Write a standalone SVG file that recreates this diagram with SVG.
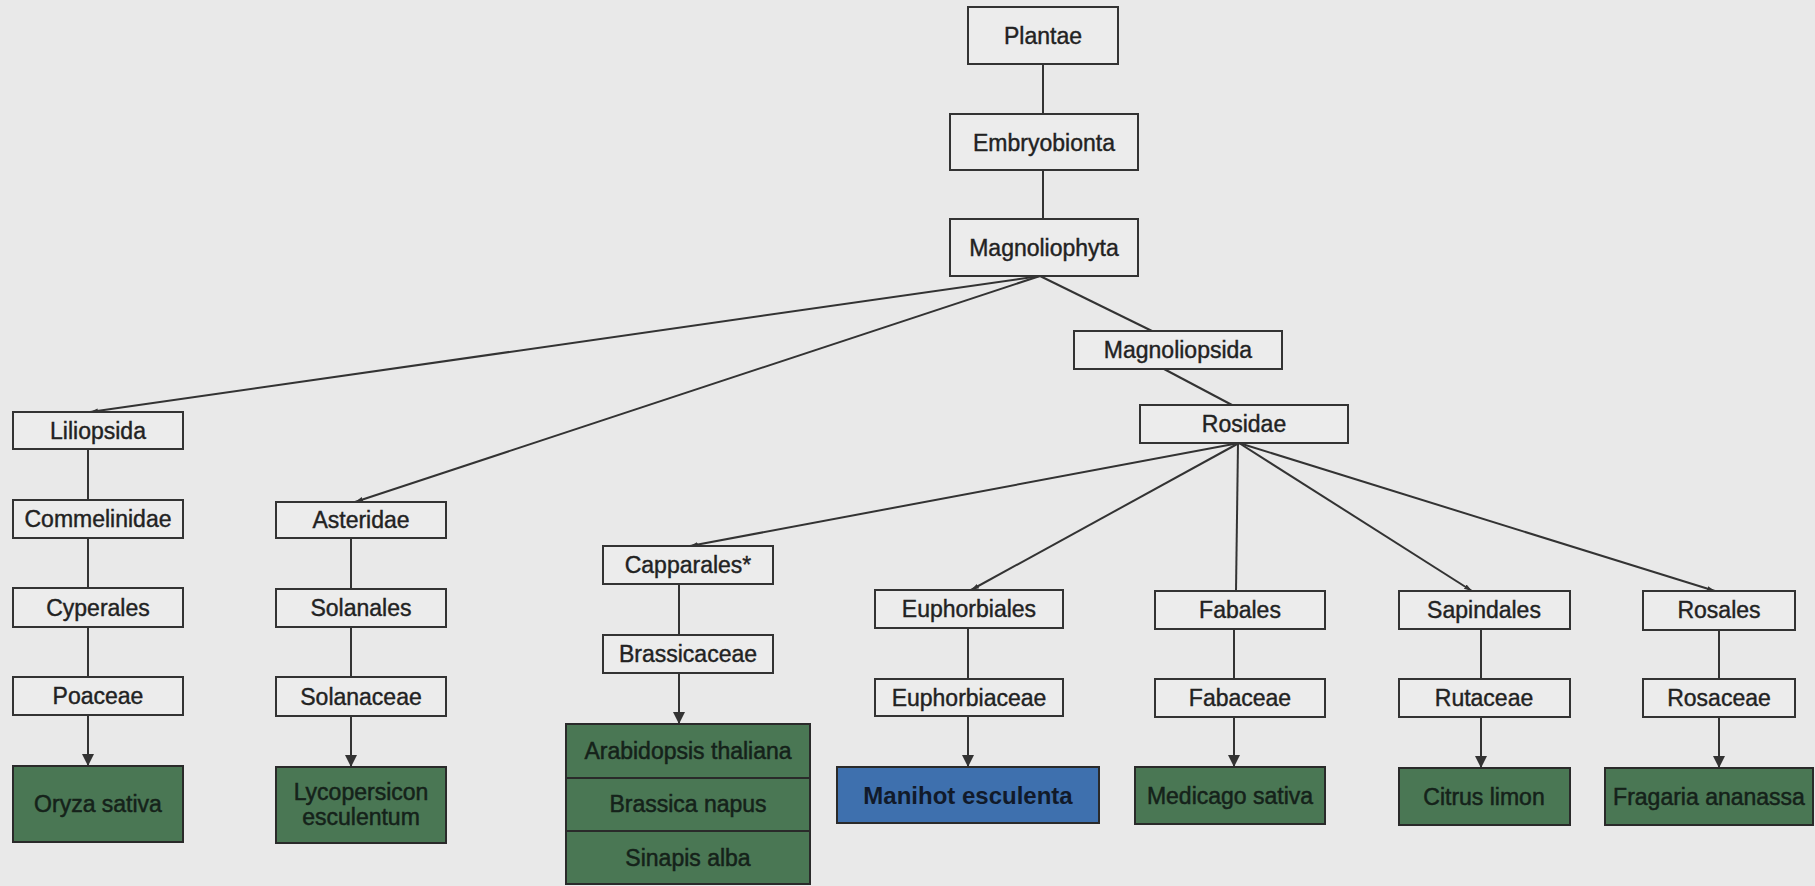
<svg xmlns="http://www.w3.org/2000/svg" width="1815" height="886" viewBox="0 0 1815 886">
<defs>
<style>
.b{fill:#ececec;stroke:#333;stroke-width:2}
.g{fill:#4a7754;stroke:#2a2a2a;stroke-width:2}
.bl{fill:#3e70ae;stroke:#2a2a2a;stroke-width:2}
.t{font-family:"Liberation Sans",Arial,sans-serif;font-size:23px;fill:#222;stroke:#222;stroke-width:0.4;text-anchor:middle}
.tg{font-family:"Liberation Sans",Arial,sans-serif;font-size:23px;fill:#15221a;stroke:#15221a;stroke-width:0.5;text-anchor:middle}
.tb{font-family:"Liberation Sans",Arial,sans-serif;font-size:24px;font-weight:bold;fill:#111a2a;text-anchor:middle}
.c line{stroke:#333;stroke-width:2;fill:none}
</style>
<marker id="a" markerUnits="userSpaceOnUse" markerWidth="12" markerHeight="12" viewBox="0 0 12 12" refX="12" refY="6" orient="auto">
<path d="M0,0 L12,6 L0,12 Z" fill="#333"/>
</marker>
<marker id="s" markerUnits="userSpaceOnUse" markerWidth="8" markerHeight="8" viewBox="0 0 8 8" refX="8" refY="4" orient="auto">
<path d="M0,1.5 L8,4 L0,6.5 Z" fill="#333"/>
</marker>
</defs>
<rect x="0" y="0" width="1815" height="886" fill="#e9e9e9"/>

<g class="c" id="connectors">
<line x1="1043" y1="64" x2="1043" y2="114"/>
<line x1="1043" y1="170" x2="1043" y2="219"/>
<line x1="1040" y1="276" x2="90" y2="412" marker-end="url(#s)"/>
<line x1="1040" y1="276" x2="355" y2="502" marker-end="url(#s)"/>
<line x1="1040" y1="276" x2="1152" y2="331"/>
<line x1="1164" y1="369" x2="1232" y2="405"/>
<line x1="1239" y1="443" x2="690" y2="546" marker-end="url(#s)"/>
<line x1="1239" y1="443" x2="971" y2="590" marker-end="url(#s)"/>
<line x1="1238" y1="443" x2="1236" y2="591"/>
<line x1="1239" y1="443" x2="1472" y2="591" marker-end="url(#s)"/>
<line x1="1239" y1="443" x2="1715" y2="591" marker-end="url(#s)"/>
<line x1="88" y1="449" x2="88" y2="500"/>
<line x1="88" y1="538" x2="88" y2="588"/>
<line x1="88" y1="627" x2="88" y2="677"/>
<line x1="88" y1="715" x2="88" y2="766" marker-end="url(#a)"/>
<line x1="351" y1="538" x2="351" y2="589"/>
<line x1="351" y1="627" x2="351" y2="677"/>
<line x1="351" y1="716" x2="351" y2="767" marker-end="url(#a)"/>
<line x1="679" y1="584" x2="679" y2="635"/>
<line x1="679" y1="673" x2="679" y2="724" marker-end="url(#a)"/>
<line x1="968" y1="628" x2="968" y2="679"/>
<line x1="968" y1="716" x2="968" y2="767" marker-end="url(#a)"/>
<line x1="1234" y1="629" x2="1234" y2="679"/>
<line x1="1234" y1="717" x2="1234" y2="767" marker-end="url(#a)"/>
<line x1="1481" y1="629" x2="1481" y2="679"/>
<line x1="1481" y1="717" x2="1481" y2="768" marker-end="url(#a)"/>
<line x1="1719" y1="630" x2="1719" y2="679"/>
<line x1="1719" y1="717" x2="1719" y2="768" marker-end="url(#a)"/>
</g>

<g id="plantae"><rect class="b" x="968" y="7" width="150" height="57"/><text class="t" x="1043" y="44">Plantae</text></g>
<g id="embryobionta"><rect class="b" x="950" y="114" width="188" height="56"/><text class="t" x="1044" y="151">Embryobionta</text></g>
<g id="magnoliophyta"><rect class="b" x="950" y="219" width="188" height="57"/><text class="t" x="1044" y="256">Magnoliophyta</text></g>
<g id="magnoliopsida"><rect class="b" x="1074" y="331" width="208" height="38"/><text class="t" x="1178" y="358">Magnoliopsida</text></g>
<g id="rosidae"><rect class="b" x="1140" y="405" width="208" height="38"/><text class="t" x="1244" y="432">Rosidae</text></g>

<g id="liliopsida"><rect class="b" x="13" y="412" width="170" height="37"/><text class="t" x="98" y="439">Liliopsida</text></g>
<g id="commelinidae"><rect class="b" x="13" y="500" width="170" height="38"/><text class="t" x="98" y="527">Commelinidae</text></g>
<g id="cyperales"><rect class="b" x="13" y="588" width="170" height="39"/><text class="t" x="98" y="616">Cyperales</text></g>
<g id="poaceae"><rect class="b" x="13" y="677" width="170" height="38"/><text class="t" x="98" y="704">Poaceae</text></g>
<g id="oryza"><rect class="g" x="13" y="766" width="170" height="76"/><text class="tg" x="98" y="812">Oryza sativa</text></g>

<g id="asteridae"><rect class="b" x="276" y="502" width="170" height="36"/><text class="t" x="361" y="528">Asteridae</text></g>
<g id="solanales"><rect class="b" x="276" y="589" width="170" height="38"/><text class="t" x="361" y="616">Solanales</text></g>
<g id="solanaceae"><rect class="b" x="276" y="677" width="170" height="39"/><text class="t" x="361" y="705">Solanaceae</text></g>
<g id="lycopersicon"><rect class="g" x="276" y="767" width="170" height="76"/><text class="tg" x="361" y="800">Lycopersicon</text><text class="tg" x="361" y="825">esculentum</text></g>

<g id="capparales"><rect class="b" x="603" y="546" width="170" height="38"/><text class="t" x="688" y="573">Capparales*</text></g>
<g id="brassicaceae"><rect class="b" x="603" y="635" width="170" height="38"/><text class="t" x="688" y="662">Brassicaceae</text></g>
<g id="brassica-species">
<rect class="g" x="566" y="724" width="244" height="54"/><text class="tg" x="688" y="759">Arabidopsis thaliana</text>
<rect class="g" x="566" y="778" width="244" height="53"/><text class="tg" x="688" y="812">Brassica napus</text>
<rect class="g" x="566" y="831" width="244" height="53"/><text class="tg" x="688" y="866">Sinapis alba</text>
</g>

<g id="euphorbiales"><rect class="b" x="875" y="590" width="188" height="38"/><text class="t" x="969" y="617">Euphorbiales</text></g>
<g id="euphorbiaceae"><rect class="b" x="875" y="679" width="188" height="37"/><text class="t" x="969" y="706">Euphorbiaceae</text></g>
<g id="manihot"><rect class="bl" x="837" y="767" width="262" height="56"/><text class="tb" x="968" y="804">Manihot esculenta</text></g>

<g id="fabales"><rect class="b" x="1155" y="591" width="170" height="38"/><text class="t" x="1240" y="618">Fabales</text></g>
<g id="fabaceae"><rect class="b" x="1155" y="679" width="170" height="38"/><text class="t" x="1240" y="706">Fabaceae</text></g>
<g id="medicago"><rect class="g" x="1135" y="767" width="190" height="57"/><text class="tg" x="1230" y="804">Medicago sativa</text></g>

<g id="sapindales"><rect class="b" x="1399" y="591" width="171" height="38"/><text class="t" x="1484" y="618">Sapindales</text></g>
<g id="rutaceae"><rect class="b" x="1399" y="679" width="171" height="38"/><text class="t" x="1484" y="706">Rutaceae</text></g>
<g id="citrus"><rect class="g" x="1399" y="768" width="171" height="57"/><text class="tg" x="1484" y="805">Citrus limon</text></g>

<g id="rosales"><rect class="b" x="1643" y="591" width="152" height="39"/><text class="t" x="1719" y="618">Rosales</text></g>
<g id="rosaceae"><rect class="b" x="1643" y="679" width="152" height="38"/><text class="t" x="1719" y="706">Rosaceae</text></g>
<g id="fragaria"><rect class="g" x="1605" y="768" width="208" height="57"/><text class="tg" x="1709" y="805">Fragaria ananassa</text></g>
</svg>
